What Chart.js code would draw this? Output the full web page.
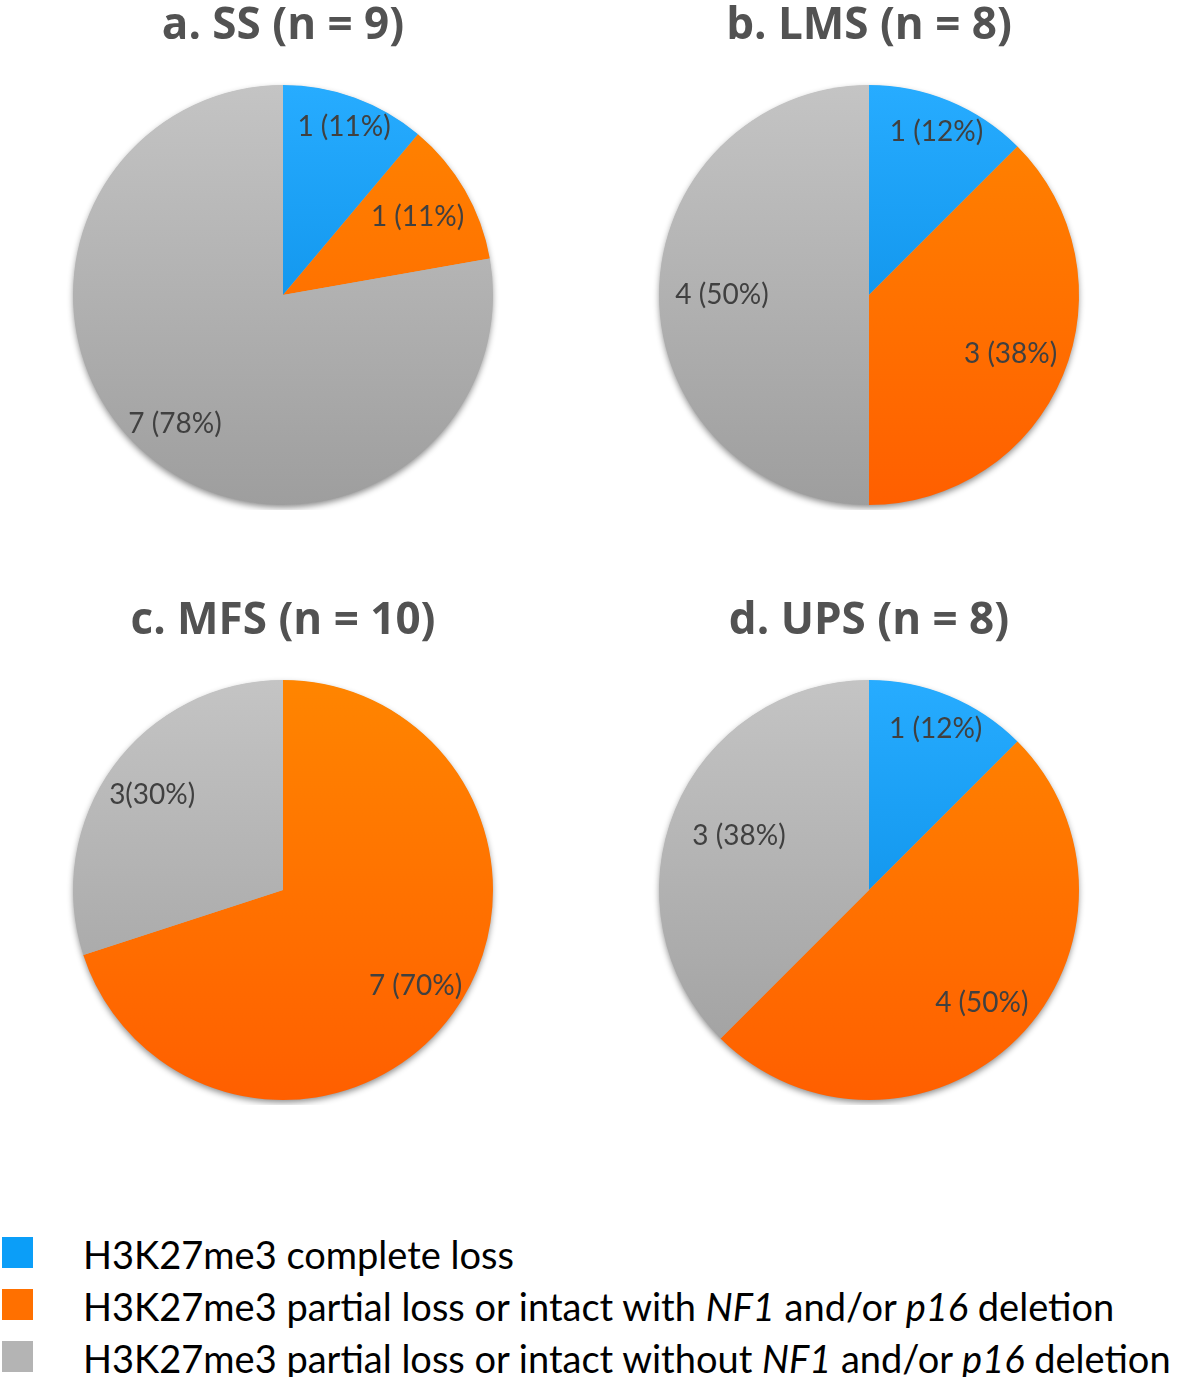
<!DOCTYPE html>
<html>
<head>
<meta charset="utf-8">
<script src="https://cdn.jsdelivr.net/npm/chart.js@4.4.1/dist/chart.umd.min.js"></script>
<style>
    body { margin: 0; background: #fff; width: 1181px; height: 1377px; position: relative; overflow: hidden; }
    canvas { position: absolute; }
    #legend { position: absolute; left: 0; top: 1228px; font-family: Lato, "Open Sans", sans-serif; font-size: 38px; color: #000; }
    .row { position: relative; height: 52px; line-height: 52px; white-space: nowrap; }
    .sw { position: absolute; left: 2px; top: 9px; width: 31px; height: 31px; }
    .txt { position: absolute; left: 83px; top: 0; }
</style>
</head>
<body>
<canvas id="pieA" width="566" height="510" style="left:0;top:0"></canvas>
<canvas id="pieB" width="566" height="510" style="left:586px;top:0"></canvas>
<canvas id="pieC" width="566" height="510" style="left:0;top:595px"></canvas>
<canvas id="pieD" width="566" height="510" style="left:586px;top:595px"></canvas>
<div id="legend">
    <div class="row"><span class="sw" style="background:#0b9ef8"></span><span class="txt">H3K27me3 complete loss</span></div>
    <div class="row"><span class="sw" style="background:#ff7000"></span><span class="txt">H3K27me3 partial loss or intact with <i>NF1</i> and/or <i>p16</i> deletion</span></div>
    <div class="row"><span class="sw" style="background:#b4b4b4"></span><span class="txt">H3K27me3 partial loss or intact without <i>NF1</i> and/or <i>p16</i> deletion</span></div>
</div>
<script>
const categories = [
    'H3K27me3 complete loss',
    'H3K27me3 partial loss or intact with NF1 and/or p16 deletion',
    'H3K27me3 partial loss or intact without NF1 and/or p16 deletion'
];

const ssValues = [1, 1, 7];
const lmsValues = [1, 3, 4];
const mfsValues = [0, 7, 3];
const upsValues = [1, 4, 3];

const ssLabels = ['1 (11%)', '1 (11%)', '7 (78%)'];
const lmsLabels = ['1 (12%)', '3 (38%)', '4 (50%)'];
const mfsLabels = ['', '7 (70%)', '3(30%)'];
const upsLabels = ['1 (12%)', '4 (50%)', '3 (38%)'];

// top / bottom colours of the vertical gradient for each category
const GRADIENTS = [
    ['#27acff', '#0084de'],
    ['#ff8500', '#ff5f00'],
    ['#c4c4c4', '#9e9e9e']
];

function gradientFill(ctx) {
    const stops = GRADIENTS[ctx.dataIndex % GRADIENTS.length];
    const area = ctx.chart.chartArea;
    if (!area) return stops[0];
    const g = ctx.chart.ctx.createLinearGradient(0, area.top, 0, area.bottom);
    g.addColorStop(0, stops[0]);
    g.addColorStop(1, stops[1]);
    return g;
}

const pieShadow = {
    id: 'pieShadow',
    beforeDatasetsDraw(chart) {
        const arc = chart.getDatasetMeta(0).data[0];
        if (!arc) return;
        const ctx = chart.ctx;
        ctx.save();
        ctx.shadowColor = 'rgba(0,0,0,0.45)';
        ctx.shadowBlur = 6;
        ctx.shadowOffsetY = 3;
        ctx.fillStyle = '#b0b0b0';
        ctx.beginPath();
        ctx.arc(arc.x, arc.y, arc.outerRadius - 0.5, 0, Math.PI * 2);
        ctx.fill();
        ctx.restore();
    }
};

const sliceLabels = {
    id: 'sliceLabels',
    afterDatasetsDraw(chart, args, opts) {
        const meta = chart.getDatasetMeta(0);
        const ctx = chart.ctx;
        ctx.save();
        ctx.font = '28px Lato, "Open Sans", sans-serif';
        ctx.fillStyle = '#404040';
        ctx.textAlign = 'center';
        ctx.textBaseline = 'middle';
        meta.data.forEach((arc, i) => {
            const text = opts.texts[i];
            if (!text) return;
            const mid = (arc.startAngle + arc.endAngle) / 2;
            const r = arc.outerRadius * opts.radius[i];
            ctx.fillText(text, arc.x + Math.cos(mid) * r, arc.y + Math.sin(mid) * r);
        });
        ctx.restore();
    }
};

function makePie(id, title, values, texts, radius) {
    const ctx = document.getElementById(id).getContext('2d');
    return new Chart(ctx, {
        type: 'pie',
        data: {
            labels: categories,
            datasets: [{
                data: values,
                backgroundColor: gradientFill,
                borderWidth: 0,
                hoverOffset: 0
            }]
        },
        options: {
            responsive: false,
            animation: false,
            layout: { padding: { top: 0, bottom: 5, left: 0, right: 0 } },
            plugins: {
                legend: { display: false },
                tooltip: { enabled: false },
                title: {
                    display: true,
                    text: title,
                    color: '#525252',
                    font: { family: '"Open Sans", sans-serif', size: 44, weight: 'bold', lineHeight: 1.2 },
                    padding: { top: 0, bottom: 32.2 }
                },
                sliceLabels: { texts, radius }
            }
        },
        plugins: [pieShadow, sliceLabels]
    });
}

makePie('pieA', 'a. SS (n = 9)', ssValues, ssLabels, [0.85, 0.74, 0.80]);
makePie('pieB', 'b. LMS (n = 8)', lmsValues, lmsLabels, [0.84, 0.73, 0.70]);
makePie('pieC', 'c. MFS (n = 10)', mfsValues, mfsLabels, [0.8, 0.78, 0.77]);
makePie('pieD', 'd. UPS (n = 8)', upsValues, upsLabels, [0.83, 0.76, 0.67]);
</script>
</body>
</html>
